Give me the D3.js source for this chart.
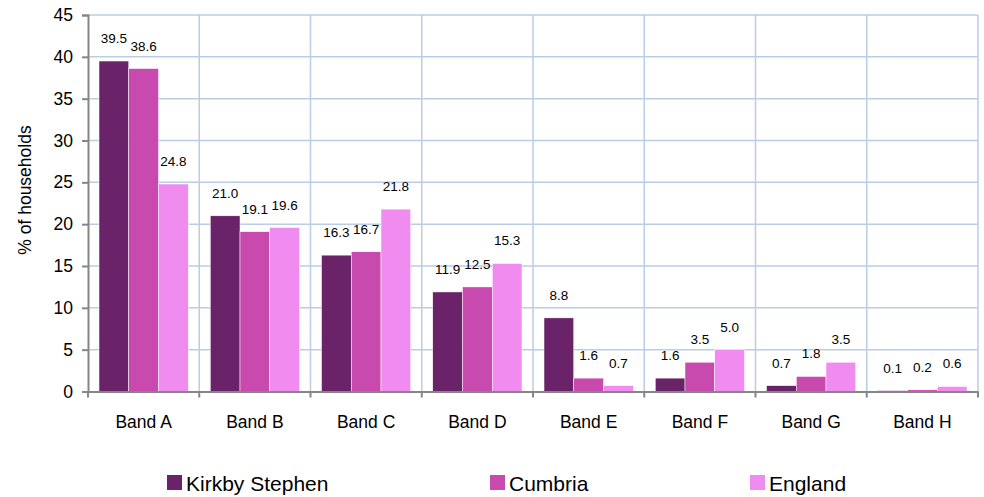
<!DOCTYPE html>
<html><head><meta charset="utf-8">
<script src="https://cdn.jsdelivr.net/npm/d3@7"></script>
<style>body{margin:0;background:#fff}svg{display:block;font-family:"Liberation Sans",Arial,sans-serif}</style>
</head><body><svg id="c" width="984" height="497"></svg>
<script>
const categories = ["Band A","Band B","Band C","Band D","Band E","Band F","Band G","Band H"];
const seriesNames = ["Kirkby Stephen","Cumbria","England"];
const kirkby = [39.5,21.0,16.3,11.9,8.8,1.6,0.7,0.1];
const cumbria = [38.6,19.1,16.7,12.5,1.6,3.5,1.8,0.2];
const england = [24.8,19.6,21.8,15.3,0.7,5.0,3.5,0.6];
const yTicks = [0,5,10,15,20,25,30,35,40,45];
const colors = ["#6a2368","#c84aae","#f08cf0"];
const series = [kirkby,cumbria,england];

const svg = d3.select("#c");
const L=88,R=978,T=15,B=391.5;
const x = d3.scaleBand().domain(categories).range([L,R]);
const xs = d3.scaleBand().domain(seriesNames).range([0,x.bandwidth()]).paddingOuter(0.37).paddingInner(0);
const y = d3.scaleLinear().domain([0,45]).range([B,T]);

// gridlines
svg.append("g").selectAll("line").data(yTicks.filter(d=>d>0)).join("line")
  .attr("x1",L).attr("x2",R).attr("y1",d=>y(d)).attr("y2",d=>y(d))
  .attr("stroke","#b9cde5").attr("stroke-width",1.5);
svg.append("g").selectAll("line").data(categories.slice(1).concat(["end"])).join("line")
  .attr("x1",(d,i)=>L+(i+1)*x.step()).attr("x2",(d,i)=>L+(i+1)*x.step())
  .attr("y1",T).attr("y2",B).attr("stroke","#b9cde5").attr("stroke-width",1.5);

// bars
categories.forEach((c,ci)=>{
  series.forEach((s,si)=>{
    const bx = x(c)+xs(seriesNames[si]);
    svg.append("rect").attr("x",bx).attr("y",y(s[ci])).attr("width",xs.bandwidth())
      .attr("height",B-y(s[ci])).attr("fill",colors[si]).attr("stroke","#fff").attr("stroke-width",0.5);
    svg.append("text").attr("x",bx+xs.bandwidth()/2).attr("y",y(s[ci])-18)
      .attr("text-anchor","middle").attr("font-size",13.5).attr("fill","#000")
      .text(s[ci].toFixed(1));
  });
});

// y axis
const ya = svg.append("g").attr("transform",`translate(${L},0)`)
  .call(d3.axisLeft(y).tickValues(yTicks).tickSize(6).tickPadding(9));
ya.select(".domain").attr("stroke","#868686").attr("stroke-width",2);
ya.selectAll(".tick line").attr("stroke","#868686").attr("stroke-width",2);
ya.selectAll(".tick text").attr("font-size",17.5).attr("fill","#000").attr("font-family","Liberation Sans, Arial, sans-serif");

// x axis
const xa = svg.append("g").attr("transform",`translate(0,${B})`)
  .call(d3.axisBottom(x).tickSize(0).tickPadding(24));
xa.select(".domain").attr("stroke","#868686").attr("stroke-width",2);
xa.selectAll(".tick text").attr("font-size",17.5).attr("fill","#000").attr("font-family","Liberation Sans, Arial, sans-serif");
svg.append("g").selectAll("line").data(d3.range(categories.length+1)).join("line")
  .attr("x1",i=>L+i*x.step()).attr("x2",i=>L+i*x.step())
  .attr("y1",B).attr("y2",B+6).attr("stroke","#868686").attr("stroke-width",2);

// y title
svg.append("text").attr("transform","translate(31,190) rotate(-90)")
  .attr("text-anchor","middle").attr("font-size",17.5).attr("fill","#000").text("% of households");

// legend
const legX=[167,490,750];
seriesNames.forEach((n,i)=>{
  svg.append("rect").attr("x",legX[i]).attr("y",475).attr("width",15).attr("height",15).attr("fill",colors[i]);
  svg.append("text").attr("x",legX[i]+19).attr("y",491).attr("font-size",21).attr("fill","#000").text(n);
});
</script></body></html>
